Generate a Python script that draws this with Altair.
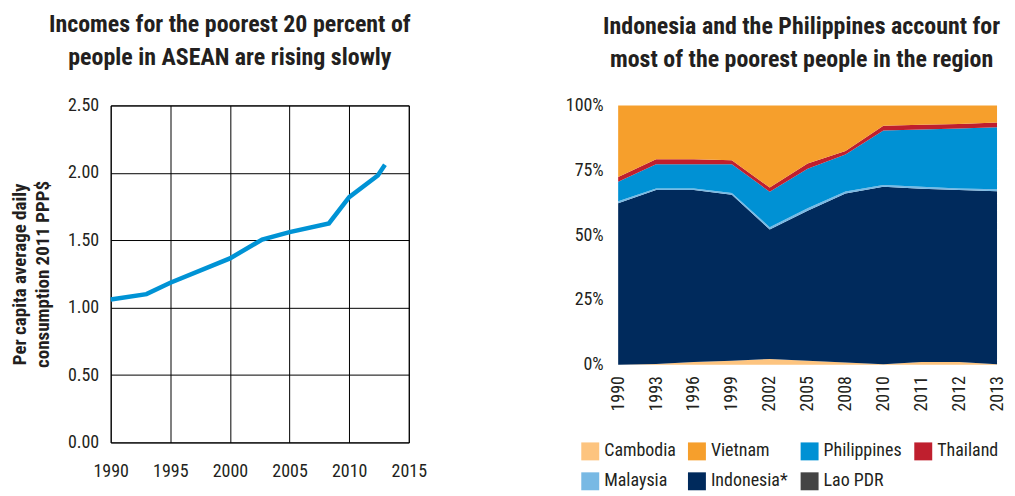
import altair as alt
import pandas as pd

FONT = "Roboto Condensed, Roboto, sans-serif"

# Left chart: per capita consumption of the poorest 20 percent
line_years = [1990, 1993, 1995, 2000, 2002.7, 2005, 2008.3, 2010, 2012.4, 2013]
line_values = [1.06, 1.10, 1.185, 1.365, 1.505, 1.56, 1.625, 1.82, 1.98, 2.06]

# Right chart: shares of poorest people (percent)
years = ["1990", "1993", "1996", "1999", "2002", "2005", "2008", "2010", "2011", "2012", "2013"]
cambodia = [0.0, 0.3, 1.0, 1.5, 2.2, 1.5, 0.8, 0.2, 1.0, 1.0, 0.2]
lao = [0.0, 0.0, 0.0, 0.0, 0.0, 0.0, 0.0, 0.0, 0.0, 0.0, 0.0]
indonesia = [62.3, 67.1, 66.4, 64.0, 49.9, 57.9, 65.2, 68.4, 66.9, 66.4, 66.7]
malaysia = [0.7, 0.6, 0.6, 0.7, 0.9, 0.9, 0.8, 0.7, 0.7, 0.6, 0.8]
philippines = [7.6, 9.3, 9.3, 11.1, 13.7, 15.3, 14.3, 21.0, 22.1, 23.1, 23.9]
thailand = [1.8, 1.9, 1.9, 1.6, 1.6, 2.0, 1.3, 1.9, 1.8, 1.7, 1.8]
vietnam = [27.6, 20.8, 20.8, 21.1, 31.7, 22.4, 17.6, 7.8, 7.5, 7.2, 6.6]

legend_order = ["Cambodia", "Vietnam", "Philippines", "Thailand", "Malaysia", "Indonesia*", "Lao PDR"]
legend_colors = ["#fdc47f", "#f69f2c", "#0091d4", "#bf1f2e", "#78b9e4", "#002a5c", "#444444"]
stack_order = ["Cambodia", "Lao PDR", "Indonesia*", "Malaysia", "Philippines", "Thailand", "Vietnam"]
series = {
    "Cambodia": cambodia,
    "Lao PDR": lao,
    "Indonesia*": indonesia,
    "Malaysia": malaysia,
    "Philippines": philippines,
    "Thailand": thailand,
    "Vietnam": vietnam,
}

df_line = pd.DataFrame({"year": line_years, "value": line_values})

rows = []
for rank, name in enumerate(stack_order):
    for y, v in zip(years, series[name]):
        rows.append({"year": y, "country": name, "share": v, "rank": rank})
df_area = pd.DataFrame(rows)

TXT = "#231f20"
title_kw = dict(fontSize=24, fontWeight="bold", font=FONT, lineHeight=24, color=TXT,
                subtitleFontSize=24, subtitleFontWeight="bold", subtitleFont=FONT,
                subtitleColor=TXT, subtitleLineHeight=24, subtitlePadding=9)

left = alt.Chart(df_line).mark_line(color="#0093d5", strokeWidth=4.5).encode(
    x=alt.X("year:Q",
            scale=alt.Scale(domain=[1990, 2015], nice=False, zero=False),
            axis=alt.Axis(values=[1990, 1995, 2000, 2005, 2010, 2015], format="d", title=None,
                          grid=True, gridColor="#000000", gridOpacity=1, gridWidth=1,
                          domain=False, ticks=False, labelFontSize=18, labelPadding=20,
                          labelFlush=False, labelOverlap=False, labelColor=TXT, labelFont=FONT)),
    y=alt.Y("value:Q",
            scale=alt.Scale(domain=[0, 2.5], nice=False),
            axis=alt.Axis(values=[0, 0.5, 1.0, 1.5, 2.0, 2.5], format=".2f",
                          title=["Per capita average daily", "consumption 2011 PPP$"],
                          titleFontSize=19, titleFontWeight="bold", titleFont=FONT,
                          titleColor=TXT, titlePadding=15, titleLineHeight=23,
                          grid=True, gridColor="#000000", gridOpacity=1, gridWidth=1,
                          domain=False, ticks=False, labelFontSize=18, labelPadding=12,
                          labelFlush=False, labelColor=TXT, labelFont=FONT)),
).properties(
    width=299, height=338,
    title=alt.TitleParams("Incomes for the poorest 20 percent of",
                          subtitle="people in ASEAN are rising slowly", dx=-30, offset=27, **title_kw),
    view=alt.ViewBackground(stroke="#000000", strokeWidth=1),
)

right = alt.Chart(df_area).mark_area().encode(
    x=alt.X("year:O", scale=alt.Scale(type="point", padding=0),
            axis=alt.Axis(title=None, labelAngle=270, labelAlign="right", labelBaseline="middle",
                          labelFontSize=18, labelPadding=11, labelColor=TXT, labelFont=FONT,
                          domain=False, ticks=False, grid=False)),
    y=alt.Y("share:Q", stack="normalize",
            axis=alt.Axis(format="%", values=[0, 0.25, 0.5, 0.75, 1.0], title=None,
                          grid=False, domain=False, ticks=False, labelFontSize=18,
                          labelPadding=15, labelFlush=False, labelColor=TXT, labelFont=FONT)),
    color=alt.Color("country:N",
                    scale=alt.Scale(domain=legend_order, range=legend_colors),
                    legend=alt.Legend(title=None, orient="none", legendX=472, legendY=338,
                                      direction="horizontal", columns=4, symbolType="square",
                                      symbolSize=324, symbolStrokeWidth=0, symbolOpacity=1,
                                      labelFontSize=18, labelFont=FONT, labelColor=TXT,
                                      labelOffset=5, columnPadding=12, rowPadding=12)),
    order=alt.Order("rank:Q"),
).properties(
    width=380, height=260,
    title=alt.TitleParams("Indonesia and the Philippines account for",
                          subtitle="most of the poorest people in the region", dx=-6, offset=25, **title_kw),
    view=alt.ViewBackground(stroke="transparent"),
)

chart = alt.hconcat(left, right, spacing=137).properties(
    padding={"left": 2, "top": 3, "right": 0, "bottom": 0}
).configure(font=FONT).configure_view(stroke="transparent")

chart.save("out.html", embed_options={"renderer": "svg", "actions": False})
